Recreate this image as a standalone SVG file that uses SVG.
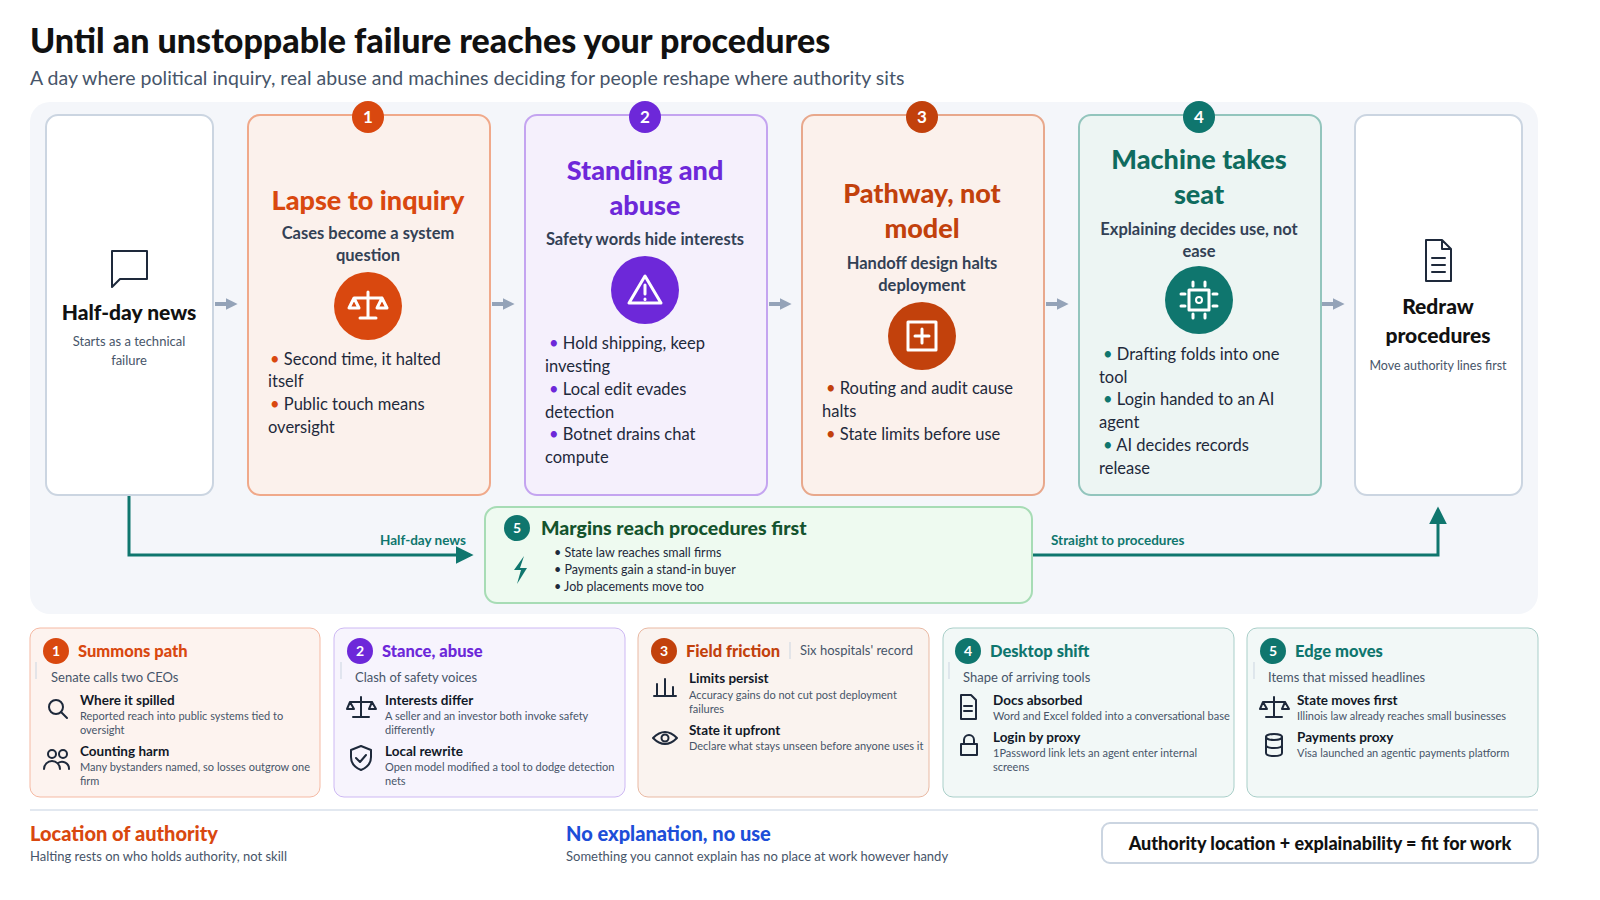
<svg xmlns="http://www.w3.org/2000/svg" width="1600" height="900" viewBox="0 0 1600 900">
<defs>
<style>
text{font-family:Lato,"Noto Sans","Liberation Sans",sans-serif}
.b{font-weight:700}
.hv{font-weight:900}
.ttl{font-size:27px;font-weight:900;text-anchor:middle}
.sub{font-size:16.5px;font-weight:700;fill:#334155;text-anchor:middle}
.bul{font-size:16.5px;fill:#1e293b}
.num{font-size:17px;font-weight:700;fill:#fff;text-anchor:middle}
.bn{font-size:14px;font-weight:700;fill:#fff;text-anchor:middle}
.it{font-size:13.5px;font-weight:700;fill:#111827}
.ds{font-size:11px;fill:#475569}
.ks{font-size:13px;fill:#475569}
.ic{fill:none;stroke:#1e293b;stroke-width:2;stroke-linecap:round;stroke-linejoin:round}
.wi{fill:none;stroke:#fff;stroke-width:3;stroke-linecap:round;stroke-linejoin:round}
.flow{fill:none;stroke:#94a3b8;stroke-width:4}
.tl{fill:none;stroke:#0f766e;stroke-width:3}
</style>
<marker id="ga" viewBox="0 0 10 10" refX="2" refY="5" markerWidth="3" markerHeight="3.5" orient="auto"><path d="M0,0L10,5L0,10z" fill="#94a3b8"/></marker>
<marker id="ta" viewBox="0 0 10 10" refX="8" refY="5" markerWidth="6" markerHeight="6" orient="auto"><path d="M0,0L10,5L0,10z" fill="#0f766e"/></marker>
</defs>
<rect width="1600" height="900" fill="#fff"/>
<text x="30" y="53" font-size="34" class="hv" fill="#111">Until an unstoppable failure reaches your procedures</text>
<text x="30" y="85" font-size="19.5" fill="#475569">A day where political inquiry, real abuse and machines deciding for people reshape where authority sits</text>
<rect x="30" y="102" width="1508" height="512" rx="20" fill="#f4f6fa"/>

<g id="connectors">
<path class="flow" d="M215 304H228" marker-end="url(#ga)"/>
<path class="flow" d="M492 304H505" marker-end="url(#ga)"/>
<path class="flow" d="M769 304H782" marker-end="url(#ga)"/>
<path class="flow" d="M1046 304H1059" marker-end="url(#ga)"/>
<path class="flow" d="M1322 304H1335" marker-end="url(#ga)"/>
<path class="tl" d="M129 495V555H470" marker-end="url(#ta)"/>
<text x="466" y="545" font-size="13.5" class="b" fill="#0f766e" text-anchor="end">Half-day news</text>
<path class="tl" d="M1032 555H1438V510" marker-end="url(#ta)"/>
<text x="1051" y="545" font-size="13.5" class="b" fill="#0f766e">Straight to procedures</text>
</g>

<g id="start">
<rect x="46" y="115" width="167" height="380" rx="12" fill="#fff" stroke="#cbd5e1" stroke-width="2"/>
<path class="ic" d="M112 251h35v28h-27l-8 8z" stroke-width="2.5"/>
<text x="129" y="320" font-size="21" class="hv" fill="#111" text-anchor="middle">Half-day news</text>
<text x="129" y="346" class="ks" text-anchor="middle">Starts as a technical</text>
<text x="129" y="365" class="ks" text-anchor="middle">failure</text>
</g>

<g id="stage1">
<rect x="248" y="115" width="242" height="380" rx="12" fill="#fbf1ec" stroke="#f0a98a" stroke-width="2"/>
<circle cx="368" cy="117" r="16" fill="#d9480f"/><text x="368" y="123" class="num">1</text>
<text x="368" y="210" class="ttl" fill="#d9480f">Lapse to inquiry</text>
<text x="368" y="239" class="sub">Cases become a system</text>
<text x="368" y="261" class="sub">question</text>
<circle cx="368" cy="306" r="34" fill="#d9480f"/>
<path class="wi" d="M368 292v26M360 318h16M354 298h28M354 298l-5 10h10zM382 298l-5 10h10z" stroke-width="2.5"/>
<text class="bul" x="270" y="365"><tspan fill="#d9480f">•</tspan> Second time, it halted</text>
<text class="bul" x="268" y="387">itself</text>
<text class="bul" x="270" y="410"><tspan fill="#d9480f">•</tspan> Public touch means</text>
<text class="bul" x="268" y="433">oversight</text>
</g>

<g id="stage2">
<rect x="525" y="115" width="242" height="380" rx="12" fill="#f5f0fc" stroke="#c4a4f0" stroke-width="2"/>
<circle cx="645" cy="117" r="16" fill="#6d28d9"/><text x="645" y="123" class="num">2</text>
<text x="645" y="180" class="ttl" fill="#6d28d9">Standing and</text>
<text x="645" y="215" class="ttl" fill="#6d28d9">abuse</text>
<text x="645" y="245" class="sub">Safety words hide interests</text>
<circle cx="645" cy="290" r="34" fill="#6d28d9"/>
<path class="wi" d="M645 276l-16 27h32z M645 285v9 M645 299v0.5"/>
<text class="bul" x="549" y="349"><tspan fill="#6d28d9">•</tspan> Hold shipping, keep</text>
<text class="bul" x="545" y="372">investing</text>
<text class="bul" x="549" y="395"><tspan fill="#6d28d9">•</tspan> Local edit evades</text>
<text class="bul" x="545" y="418">detection</text>
<text class="bul" x="549" y="440"><tspan fill="#6d28d9">•</tspan> Botnet drains chat</text>
<text class="bul" x="545" y="463">compute</text>
</g>

<g id="stage3">
<rect x="802" y="115" width="242" height="380" rx="12" fill="#fbf1ec" stroke="#e8a88c" stroke-width="2"/>
<circle cx="922" cy="117" r="16" fill="#c2410c"/><text x="922" y="123" class="num">3</text>
<text x="922" y="203" class="ttl" fill="#c2410c">Pathway, not</text>
<text x="922" y="238" class="ttl" fill="#c2410c">model</text>
<text x="922" y="269" class="sub">Handoff design halts</text>
<text x="922" y="291" class="sub">deployment</text>
<circle cx="922" cy="336" r="34" fill="#c2410c"/>
<path class="wi" d="M908 322h28v28h-28z M922 329v14 M915 336h14"/>
<text class="bul" x="826" y="394"><tspan fill="#c2410c">•</tspan> Routing and audit cause</text>
<text class="bul" x="822" y="417">halts</text>
<text class="bul" x="826" y="440"><tspan fill="#c2410c">•</tspan> State limits before use</text>
</g>

<g id="stage4">
<rect x="1079" y="115" width="242" height="380" rx="12" fill="#edf5f3" stroke="#93c5bd" stroke-width="2"/>
<circle cx="1199" cy="117" r="16" fill="#0f766e"/><text x="1199" y="123" class="num">4</text>
<text x="1199" y="169" class="ttl" fill="#0f6b5e">Machine takes</text>
<text x="1199" y="204" class="ttl" fill="#0f6b5e">seat</text>
<text x="1199" y="235" class="sub">Explaining decides use, not</text>
<text x="1199" y="257" class="sub">ease</text>
<circle cx="1199" cy="300" r="34" fill="#0f766e"/>
<path class="wi" d="M1189 290h20v20h-20z M1193 286v-4 M1205 286v-4 M1193 314v4 M1205 314v4 M1185 294h-4 M1185 306h-4 M1213 294h4 M1213 306h4" stroke-width="2.5"/>
<circle cx="1199" cy="300" r="3" fill="none" stroke="#fff" stroke-width="2"/>
<text class="bul" x="1103" y="360"><tspan fill="#0f766e">•</tspan> Drafting folds into one</text>
<text class="bul" x="1099" y="383">tool</text>
<text class="bul" x="1103" y="405"><tspan fill="#0f766e">•</tspan> Login handed to an AI</text>
<text class="bul" x="1099" y="428">agent</text>
<text class="bul" x="1103" y="451"><tspan fill="#0f766e">•</tspan> AI decides records</text>
<text class="bul" x="1099" y="474">release</text>
</g>

<g id="end">
<rect x="1355" y="115" width="167" height="380" rx="12" fill="#fff" stroke="#cbd5e1" stroke-width="2"/>
<path class="ic" d="M1426 240h16l9 9v32h-25z M1442 240v9h9 M1432 258h13 M1432 265h13 M1432 272h13" stroke-width="2.5"/>
<text x="1438" y="314" font-size="21" class="hv" fill="#111" text-anchor="middle">Redraw</text>
<text x="1438" y="343" font-size="21" class="hv" fill="#111" text-anchor="middle">procedures</text>
<text x="1438" y="370" font-size="12.5" fill="#475569" text-anchor="middle">Move authority lines first</text>
</g>

<g id="margins">
<rect x="485" y="507" width="547" height="96" rx="12" fill="#eefaf0" stroke="#a7dcb5" stroke-width="2"/>
<circle cx="517" cy="528" r="13" fill="#0f766e"/><text x="517" y="533" class="bn">5</text>
<text x="541" y="535" font-size="19.5" class="hv" fill="#14532d">Margins reach procedures first</text>
<path d="M524 556l-10 14h7l-4 14 10-16h-7z" fill="#0f766e"/>
<text x="554" y="557" font-size="12.5" fill="#1e293b">• State law reaches small firms</text>
<text x="554" y="574" font-size="12.5" fill="#1e293b">• Payments gain a stand-in buyer</text>
<text x="554" y="591" font-size="12.5" fill="#1e293b">• Job placements move too</text>
</g>

<g id="k1">
<rect x="30" y="628" width="290" height="169" rx="10" fill="#fdf3ef" stroke="#f5b9a3"/>
<circle cx="56" cy="651" r="13" fill="#d9480f"/><text x="56" y="656" class="bn">1</text>
<text x="78" y="657" font-size="16.5" class="hv" fill="#d9480f">Summons path</text>
<path d="M36 662v17" stroke="#cbd5e1"/>
<text x="51" y="682" class="ks">Senate calls two CEOs</text>
<circle cx="56" cy="707" r="7" class="ic"/><path class="ic" d="M61 712l6 6"/>
<text x="80" y="705" class="it">Where it spilled</text>
<text x="80" y="720" class="ds">Reported reach into public systems tied to</text>
<text x="80" y="734" class="ds">oversight</text>
<circle cx="52" cy="754" r="4" class="ic"/><circle cx="63" cy="754" r="4" class="ic"/>
<path class="ic" d="M44 769a8 8 0 0 1 16 0 M58 763a7 7 0 0 1 11 6"/>
<text x="80" y="756" class="it">Counting harm</text>
<text x="80" y="771" class="ds">Many bystanders named, so losses outgrow one</text>
<text x="80" y="785" class="ds">firm</text>
</g>

<g id="k2">
<rect x="334" y="628" width="291" height="169" rx="10" fill="#f7f4fd" stroke="#cdb8f3"/>
<circle cx="360" cy="651" r="13" fill="#6d28d9"/><text x="360" y="656" class="bn">2</text>
<text x="382" y="657" font-size="16.5" class="hv" fill="#6d28d9">Stance, abuse</text>
<path d="M341 662v17" stroke="#cbd5e1"/>
<text x="355" y="682" class="ks">Clash of safety voices</text>
<path class="ic" d="M361 697v20 M353 717h16 M350 702h22 M350 702l-3 7h7z M372 702l-3 7h7z"/>
<text x="385" y="705" class="it">Interests differ</text>
<text x="385" y="720" class="ds">A seller and an investor both invoke safety</text>
<text x="385" y="734" class="ds">differently</text>
<path class="ic" d="M361 746l10 4v7c0 7-5 11-10 13-5-2-10-6-10-13v-7z M356 758l4 4 6-7"/>
<text x="385" y="756" class="it">Local rewrite</text>
<text x="385" y="771" class="ds">Open model modified a tool to dodge detection</text>
<text x="385" y="785" class="ds">nets</text>
</g>

<g id="k3">
<rect x="638" y="628" width="291" height="169" rx="10" fill="#faf3ef" stroke="#e9b9a3"/>
<circle cx="664" cy="651" r="13" fill="#c2410c"/><text x="664" y="656" class="bn">3</text>
<text x="686" y="657" font-size="16.5" class="hv" fill="#c2410c">Field friction</text>
<path d="M790 642v17" stroke="#cbd5e1"/>
<text x="800" y="655" class="ks">Six hospitals' record</text>
<path class="ic" d="M654 696h22 M657 695v-11 M665 695v-16 M673 695v-8"/>
<text x="689" y="683" class="it">Limits persist</text>
<text x="689" y="699" class="ds">Accuracy gains do not cut post deployment</text>
<text x="689" y="713" class="ds">failures</text>
<path class="ic" d="M653 738q12-12 24 0q-12 12-24 0z"/><circle cx="665" cy="738" r="3.5" class="ic"/>
<text x="689" y="735" class="it">State it upfront</text>
<text x="689" y="750" class="ds">Declare what stays unseen before anyone uses it</text>
</g>

<g id="k4">
<rect x="943" y="628" width="291" height="169" rx="10" fill="#f2f8f7" stroke="#a9cfc9"/>
<circle cx="968" cy="651" r="13" fill="#0f766e"/><text x="968" y="656" class="bn">4</text>
<text x="990" y="657" font-size="16.5" class="hv" fill="#0f766e">Desktop shift</text>
<path d="M949 662v17" stroke="#cbd5e1"/>
<text x="963" y="682" class="ks">Shape of arriving tools</text>
<path class="ic" d="M961 695h10l5 5v19h-15z M964 706h8 M964 711h8"/>
<text x="993" y="705" class="it">Docs absorbed</text>
<text x="993" y="720" class="ds">Word and Excel folded into a conversational base</text>
<path class="ic" d="M961 744h16v11h-16z M964 744v-4a5 5 0 0 1 10 0v4"/>
<text x="993" y="742" class="it">Login by proxy</text>
<text x="993" y="757" class="ds">1Password link lets an agent enter internal</text>
<text x="993" y="771" class="ds">screens</text>
</g>

<g id="k5">
<rect x="1247" y="628" width="291" height="169" rx="10" fill="#f2f8f7" stroke="#a9cfc9"/>
<circle cx="1273" cy="651" r="13" fill="#0f766e"/><text x="1273" y="656" class="bn">5</text>
<text x="1295" y="657" font-size="16.5" class="hv" fill="#0f766e">Edge moves</text>
<path d="M1254 662v17" stroke="#cbd5e1"/>
<text x="1268" y="682" class="ks">Items that missed headlines</text>
<path class="ic" d="M1274 697v20 M1266 717h16 M1263 702h22 M1263 702l-3 7h7z M1285 702l-3 7h7z"/>
<text x="1297" y="705" class="it">State moves first</text>
<text x="1297" y="720" class="ds">Illinois law already reaches small businesses</text>
<ellipse cx="1274" cy="737" rx="8" ry="3" class="ic"/>
<path class="ic" d="M1266 737v16c0 4 16 4 16 0v-16 M1266 745c0 4 16 4 16 0"/>
<text x="1297" y="742" class="it">Payments proxy</text>
<text x="1297" y="757" class="ds">Visa launched an agentic payments platform</text>
</g>

<path d="M30 810H1538" stroke="#e2e8f0" stroke-width="2"/>
<g id="footer">
<text x="30" y="841" font-size="20" class="hv" fill="#d9480f">Location of authority</text>
<text x="30" y="861" class="ks">Halting rests on who holds authority, not skill</text>
<text x="566" y="841" font-size="20" class="hv" fill="#1d4ed8">No explanation, no use</text>
<text x="566" y="861" class="ks">Something you cannot explain has no place at work however handy</text>
<rect x="1102" y="823" width="436" height="40" rx="8" fill="#fff" stroke="#cbd5e1" stroke-width="2"/>
<text x="1320" y="850" font-size="18" class="hv" fill="#111" text-anchor="middle">Authority location + explainability = fit for work</text>
</g>
</svg>
